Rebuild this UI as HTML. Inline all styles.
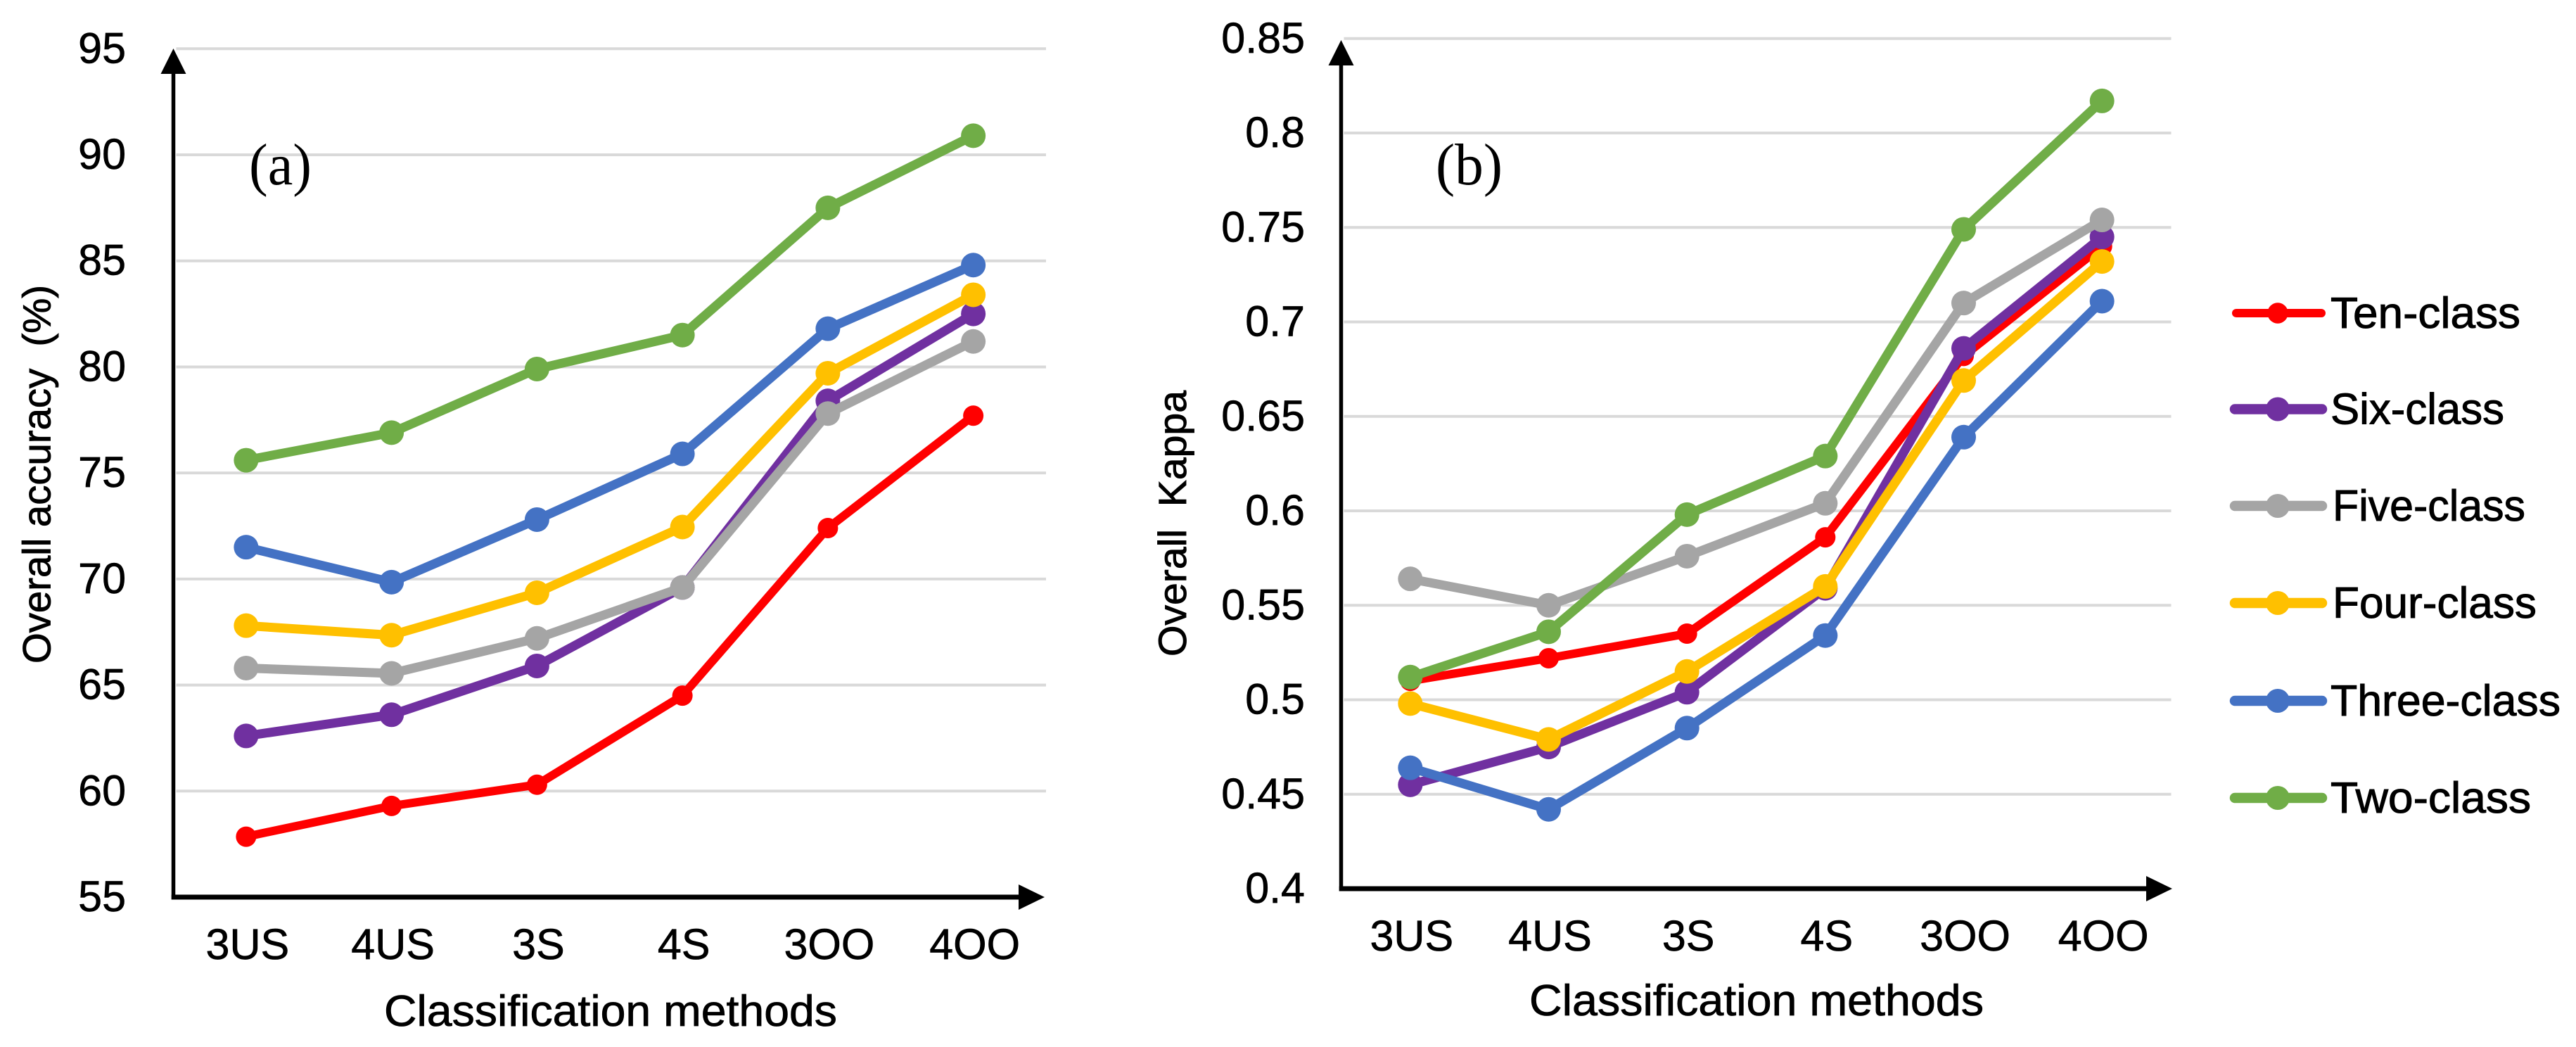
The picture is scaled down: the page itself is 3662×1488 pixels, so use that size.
<!DOCTYPE html>
<html lang="en">
<head>
<meta charset="utf-8">
<title>Overall accuracy and Kappa by classification method</title>
<style>
html,body{margin:0;padding:0;background:#fff;}
body{width:3662px;height:1488px;overflow:hidden;}
svg{display:block;}
text{font-family:"Liberation Sans",sans-serif;fill:#000;}
.serif{font-family:"Liberation Serif",serif;}
</style>
</head>
<body>
<svg id="figure" xmlns="http://www.w3.org/2000/svg" width="3662" height="1488" viewBox="0 0 3662 1488"></svg>
<script>
const categories = ["3US", "4US", "3S", "4S", "3OO", "4OO"];
const seriesNames = ["Ten-class", "Six-class", "Five-class", "Four-class", "Three-class", "Two-class"];

const accuracyTicks = [55, 60, 65, 70, 75, 80, 85, 90, 95];
const accuracyTen = [57.85, 59.3, 60.3, 64.5, 72.4, 77.7];
const accuracySix = [62.6, 63.6, 65.9, 69.6, 78.4, 82.5];
const accuracyFive = [65.8, 65.55, 67.2, 69.6, 77.8, 81.2];
const accuracyFour = [67.8, 67.35, 69.35, 72.45, 79.7, 83.4];
const accuracyThree = [71.5, 69.85, 72.8, 75.9, 81.8, 84.8];
const accuracyTwo = [75.6, 76.9, 79.9, 81.5, 87.5, 90.9];

const kappaTicks = [0.4, 0.45, 0.5, 0.55, 0.6, 0.65, 0.7, 0.75, 0.8, 0.85];
const kappaTen = [0.51, 0.522, 0.535, 0.586, 0.682, 0.74];
const kappaSix = [0.455, 0.475, 0.504, 0.559, 0.686, 0.745];
const kappaFive = [0.564, 0.55, 0.576, 0.604, 0.71, 0.754];
const kappaFour = [0.498, 0.479, 0.515, 0.56, 0.669, 0.732];
const kappaThree = [0.464, 0.442, 0.485, 0.534, 0.639, 0.711];
const kappaTwo = [0.512, 0.536, 0.598, 0.629, 0.749, 0.817];

const accuracySeries = [accuracyTen, accuracySix, accuracyFive, accuracyFour, accuracyThree, accuracyTwo];
const kappaSeries = [kappaTen, kappaSix, kappaFive, kappaFour, kappaThree, kappaTwo];
const seriesColors = ["#ff0000", "#7030a0", "#a5a5a5", "#ffc000", "#4472c4", "#70ad47"];

const svg = document.getElementById('figure');

function make(tag, parent, attrs, content) {
  const el = document.createElementNS('http://www.w3.org/2000/svg', tag);
  for (const k in attrs) el.setAttribute(k, attrs[k]);
  if (content !== undefined) el.textContent = content;
  parent.appendChild(el);
  return el;
}

function slug(s) {
  return s.toLowerCase().replace(/[^a-z0-9]+/g, '-');
}

function drawChart(cfg) {
  const g = make('g', svg, {});
  
  

  const yMin = cfg.ticks[0];
  const yMax = cfg.ticks[cfg.ticks.length - 1];
  const yScale = v => cfg.bottom - (v - yMin) * (cfg.bottom - cfg.top) / (yMax - yMin);
  const xScale = i => cfg.left + (i + 0.5) * (cfg.right - cfg.left) / categories.length;

  cfg.ticks.forEach(t => {
    if (t !== yMin) {
      const grid = make('line', g, {x1: cfg.left + 4, x2: cfg.right, y1: yScale(t), y2: yScale(t), stroke: '#d9d9d9', 'stroke-width': 4});
      
      
    }
    const label = make('text', g, {x: cfg.tickRight, y: yScale(t) + 20, 'font-size': 61, 'text-anchor': 'end', stroke: '#000', 'stroke-width': 0.7}, String(t));
    
    
  });

  const yAxis = make('line', g, {x1: cfg.left, x2: cfg.left, y1: cfg.bottom + 3.5, y2: cfg.arrowTop + 30, stroke: '#000', 'stroke-width': 5.5});
  
  
  const yArrow = make('polygon', g, {points: `${cfg.left},${cfg.arrowTop} ${cfg.left - 18},${cfg.arrowTop + 36} ${cfg.left + 18},${cfg.arrowTop + 36}`, fill: '#000'});
  
  
  const xAxis = make('line', g, {x1: cfg.left - 2.75, x2: cfg.arrowRight - 30, y1: cfg.bottom, y2: cfg.bottom, stroke: '#000', 'stroke-width': 7});
  
  
  const xArrow = make('polygon', g, {points: `${cfg.arrowRight},${cfg.bottom} ${cfg.arrowRight - 37},${cfg.bottom - 18} ${cfg.arrowRight - 37},${cfg.bottom + 18}`, fill: '#000'});
  
  

  categories.forEach((c, i) => {
    const label = make('text', g, {x: xScale(i) + 2, y: cfg.xTickBase, 'font-size': 61, 'text-anchor': 'middle', stroke: '#000', 'stroke-width': 0.7}, c);
    
    
  });

  cfg.series.forEach((values, s) => {
    const sg = make('g', g, {});
    
    
    const pts = values.map((v, i) => xScale(i) + ',' + yScale(v)).join(' ');
    const line = make('polyline', sg, {points: pts, fill: 'none', stroke: seriesColors[s], 'stroke-width': s === 0 ? 12 : 13, 'stroke-linejoin': 'round'});
    
    
    values.forEach((v, i) => {
      const dot = make('circle', sg, {cx: xScale(i), cy: yScale(v), r: s === 0 ? 14.5 : 17.5, fill: seriesColors[s]});
      
      
    });
  });

  const xTitle = make('text', g, {x: cfg.xTitleX, y: cfg.xTitleY, 'font-size': 62, textLength: cfg.xTitleLen, lengthAdjust: 'spacingAndGlyphs', stroke: '#000', 'stroke-width': 0.8}, 'Classification methods');
  
  

  const yTitle = make('text', g, {transform: `translate(${cfg.yTitleX},${cfg.yTitleY}) rotate(-90)`, 'font-size': 56, textLength: cfg.yTitleLen, lengthAdjust: 'spacingAndGlyphs', stroke: '#000', 'stroke-width': 0.9}, cfg.yTitle);
  
  

  const panel = make('text', g, {x: cfg.panelX, y: 262, 'font-size': 84, 'class': 'serif', textLength: cfg.panelLen, lengthAdjust: 'spacingAndGlyphs'}, cfg.panel);
  
  
}

drawChart({
  id: 'accuracy', ticks: accuracyTicks, series: accuracySeries,
  left: 246.5, right: 1487, top: 69.3, bottom: 1275,
  arrowTop: 69, arrowRight: 1485, tickRight: 179, xTickBase: 1363,
  xTitleX: 546, xTitleY: 1458, xTitleLen: 644,
  yTitle: 'Overall accuracy\u00a0\u00a0(%)', yTitleX: 71.7, yTitleY: 943, yTitleLen: 538,
  panel: '(a)', panelX: 354, panelLen: 89
});

drawChart({
  id: 'kappa', ticks: kappaTicks, series: kappaSeries,
  left: 1906.5, right: 3086.5, top: 54.8, bottom: 1263,
  arrowTop: 57, arrowRight: 3088, tickRight: 1855, xTickBase: 1351,
  xTitleX: 2174, xTitleY: 1443, xTitleLen: 646,
  yTitle: 'Overall\u00a0\u00a0Kappa', yTitleX: 1686, yTitleY: 933, yTitleLen: 378,
  panel: '(b)', panelX: 2041, panelLen: 95
});

const legendRows = [445, 581.5, 719, 857, 996, 1134];
const legendWidths = [270, 247, 274, 290, 327, 285];
const legendTextX = [3313, 3313, 3316, 3316, 3313, 3313];
const legend = make('g', svg, {});


seriesNames.forEach((name, s) => {
  const entry = make('g', legend, {});
  
  
  const swatch = make('line', entry, {x1: s === 0 ? 3179 : 3177, x2: s === 0 ? 3300 : 3301, y1: legendRows[s], y2: legendRows[s], stroke: seriesColors[s], 'stroke-width': s === 0 ? 12 : 14.5, 'stroke-linecap': 'round'});
  
  
  const dot = make('circle', entry, {cx: 3238, cy: legendRows[s], r: s === 0 ? 14.7 : 17, fill: seriesColors[s]});
  
  
  const label = make('text', entry, {x: legendTextX[s], y: legendRows[s] + 21, 'font-size': 62, textLength: legendWidths[s], lengthAdjust: 'spacingAndGlyphs', stroke: '#000', 'stroke-width': 1}, name);
  
  
});
</script>
</body>
</html>
